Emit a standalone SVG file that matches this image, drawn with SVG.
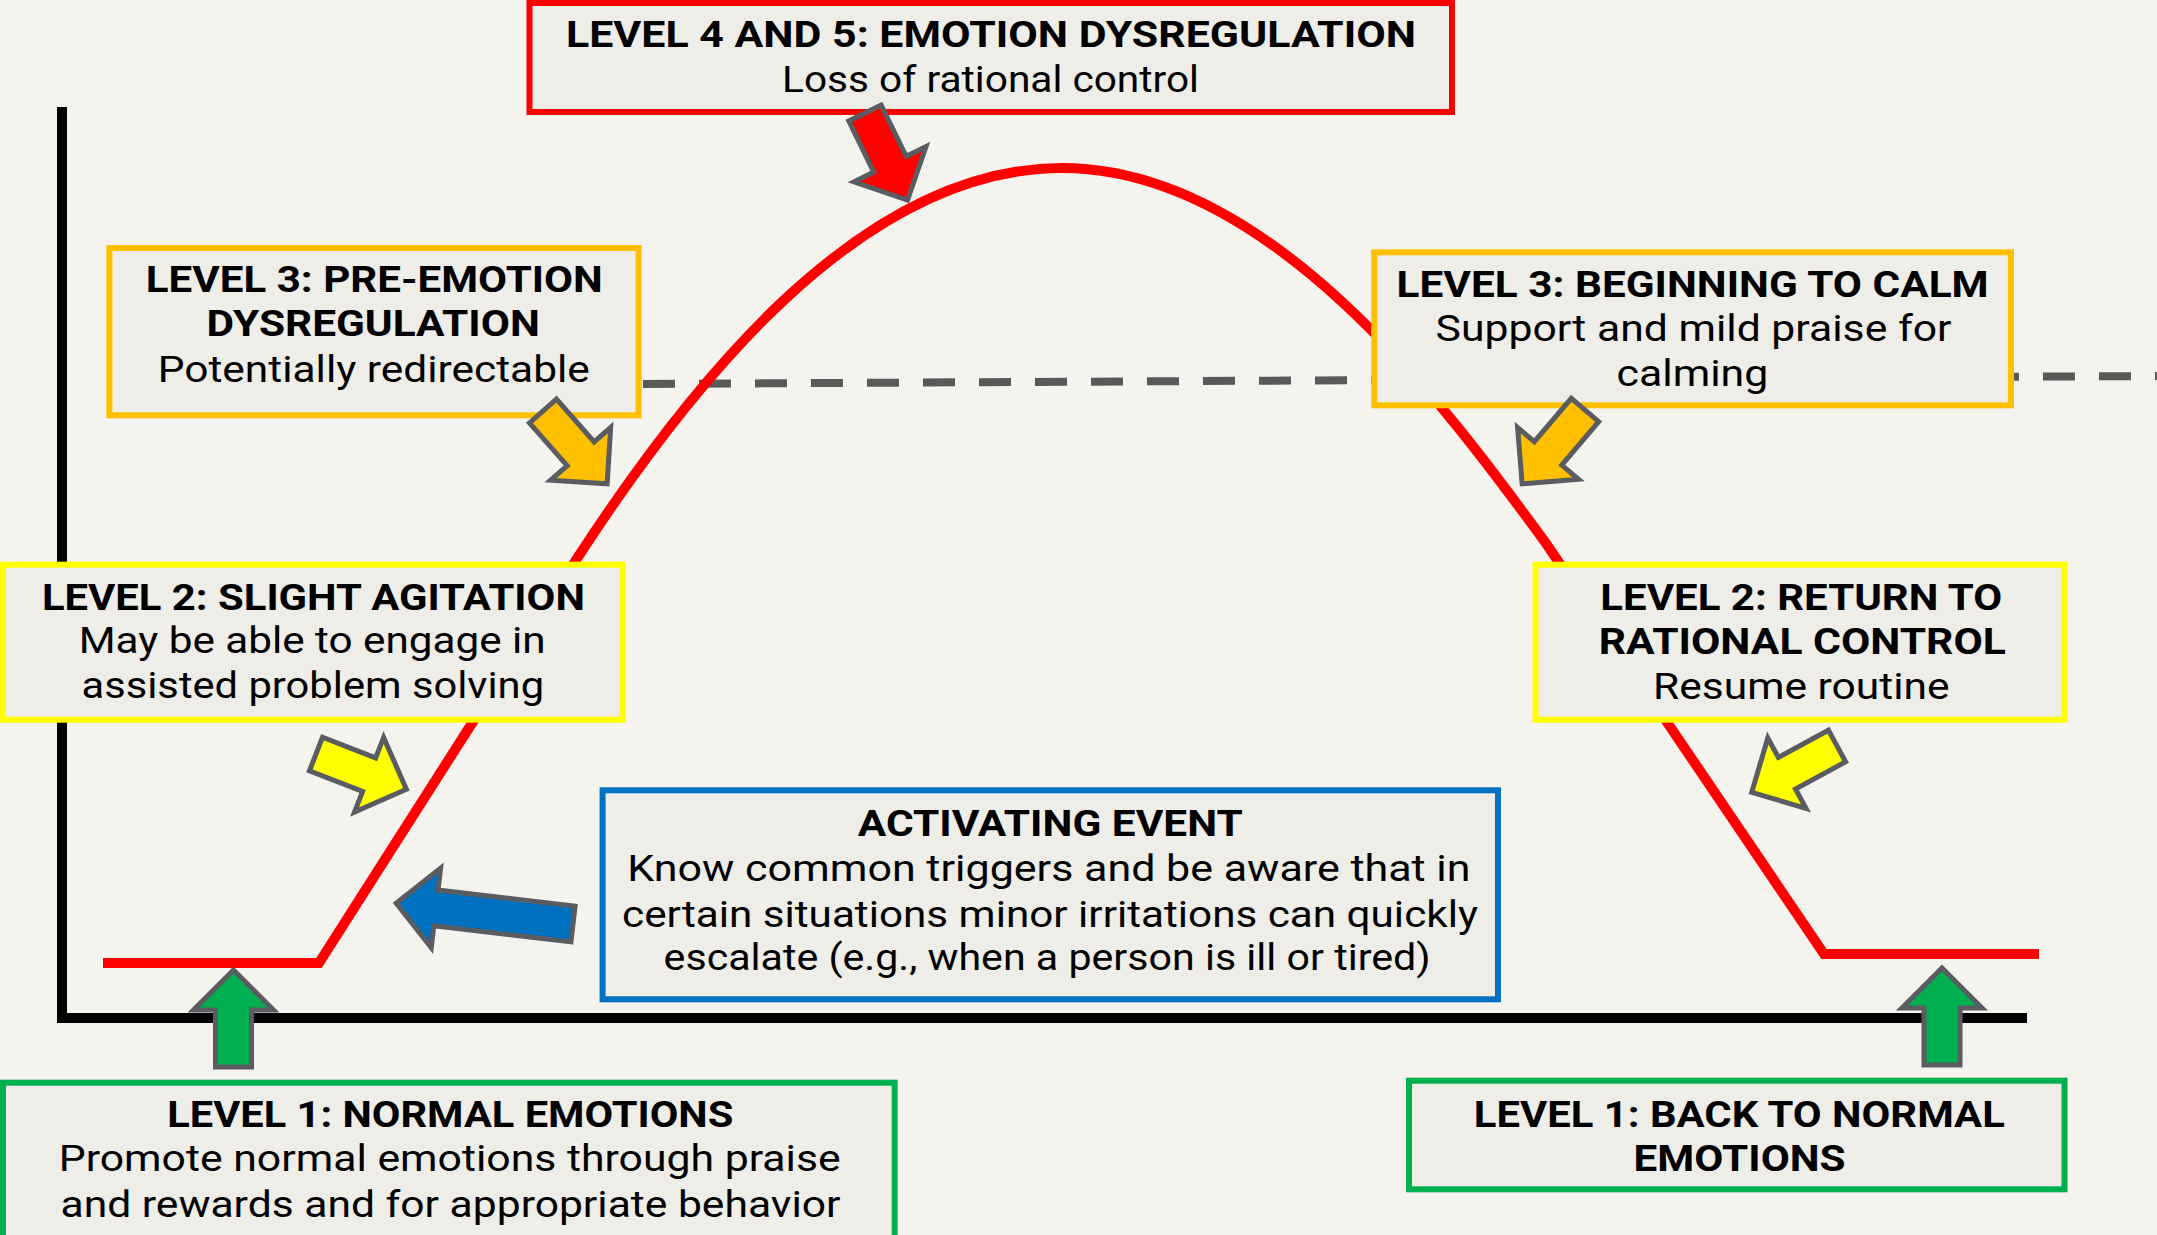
<svg xmlns="http://www.w3.org/2000/svg" xmlns:xlink="http://www.w3.org/1999/xlink" width="2157" height="1235" viewBox="0 0 2157 1235">
  <style>
    .bg { fill: #F4F3EE; }
    .box { fill: #EEEDE7; stroke-width: 6; }
    .red { stroke: #FF0000; }
    .orange { stroke: #FFC000; }
    .yellow { stroke: #FFFF00; }
    .blue { stroke: #0070C0; }
    .green { stroke: #00B050; }
    .h { font-family: Roboto, "Liberation Sans", sans-serif; font-weight: 700; font-size: 37px; fill: #000; text-anchor: middle; }
    .t { font-family: Roboto, "Liberation Sans", sans-serif; font-weight: 400; font-size: 37px; fill: #000; text-anchor: middle; }
    .axis { stroke: #000; stroke-width: 10; fill: none; }
    .dash { stroke: #595959; stroke-width: 8; stroke-dasharray: 32 24; fill: none; }
    .curve { stroke: #FF0000; stroke-width: 10; fill: none; stroke-linejoin: miter; }
    .arr { stroke: #595C60; stroke-width: 5; stroke-linejoin: miter; }
  </style>
  <defs>
    <path id="arrow" d="M0,-18 H57 V-40 L97,0 L57,40 V18 H0 Z"/>
    <path id="arrowLong" d="M0,-18 H138 V-40 L178,0 L138,40 V18 H0 Z"/>
  </defs>

  <rect class="bg" x="0" y="0" width="2157" height="1235"/>

  <g id="chart">
    <path class="axis" d="M62,107 V1018 H2027"/>
    <path class="dash" d="M643,384 L2157,376"/>
    <path class="curve" d="M103,963 H319 L578,557 C690,385 860,168 1062,168 C1270,168 1445,405 1545,542 L1824,954 H2039"/>
  </g>

  <g id="level45">
    <rect class="box red" x="529.5" y="3" width="922.5" height="109"/>
    <text class="h" x="991" y="47" textLength="850" lengthAdjust="spacingAndGlyphs">LEVEL 4 AND 5: EMOTION DYSREGULATION</text>
    <text class="t" x="990.5" y="92" textLength="417" lengthAdjust="spacingAndGlyphs">Loss of rational control</text>
  </g>

  <g id="level3-pre">
    <rect class="box orange" x="109.4" y="248" width="529.2" height="167.3"/>
    <text class="h" x="374.3" y="292.3" textLength="457" lengthAdjust="spacingAndGlyphs">LEVEL 3: PRE-EMOTION</text>
    <text class="h" x="373.1" y="336" textLength="333.4" lengthAdjust="spacingAndGlyphs">DYSREGULATION</text>
    <text class="t" x="373.8" y="381.7" textLength="432" lengthAdjust="spacingAndGlyphs">Potentially redirectable</text>
  </g>

  <g id="level3-calm">
    <rect class="box orange" x="1374.2" y="252.3" width="636.8" height="153"/>
    <text class="h" x="1692.6" y="296.7" textLength="592" lengthAdjust="spacingAndGlyphs">LEVEL 3: BEGINNING TO CALM</text>
    <text class="t" x="1693.6" y="340.7" textLength="516" lengthAdjust="spacingAndGlyphs">Support and mild praise for</text>
    <text class="t" x="1692.4" y="386" textLength="151.6" lengthAdjust="spacingAndGlyphs">calming</text>
  </g>

  <g id="level2-agitation">
    <rect class="box yellow" x="3" y="564.7" width="619.7" height="155"/>
    <text class="h" x="313.4" y="610" textLength="543" lengthAdjust="spacingAndGlyphs">LEVEL 2: SLIGHT AGITATION</text>
    <text class="t" x="312.2" y="653.3" textLength="467" lengthAdjust="spacingAndGlyphs">May be able to engage in</text>
    <text class="t" x="312.8" y="698.3" textLength="462.5" lengthAdjust="spacingAndGlyphs">assisted problem solving</text>
  </g>

  <g id="level2-return">
    <rect class="box yellow" x="1535.5" y="564.7" width="529" height="155"/>
    <text class="h" x="1801.2" y="610" textLength="401.8" lengthAdjust="spacingAndGlyphs">LEVEL 2: RETURN TO</text>
    <text class="h" x="1802.3" y="654.3" textLength="407" lengthAdjust="spacingAndGlyphs">RATIONAL CONTROL</text>
    <text class="t" x="1801.3" y="699.3" textLength="296.6" lengthAdjust="spacingAndGlyphs">Resume routine</text>
  </g>

  <g id="activating-event">
    <rect class="box blue" x="602.6" y="790.3" width="895.4" height="209"/>
    <text class="h" x="1050.3" y="836" textLength="385" lengthAdjust="spacingAndGlyphs">ACTIVATING EVENT</text>
    <text class="t" x="1048.9" y="881" textLength="843.4" lengthAdjust="spacingAndGlyphs">Know common triggers and be aware that in</text>
    <text class="t" x="1050" y="926.7" textLength="855.8" lengthAdjust="spacingAndGlyphs">certain situations minor irritations can quickly</text>
    <text class="t" x="1047.1" y="970" textLength="767" lengthAdjust="spacingAndGlyphs">escalate (e.g., when a person is ill or tired)</text>
  </g>

  <g id="level1-normal">
    <rect class="box green" x="3" y="1082.7" width="891.7" height="170"/>
    <text class="h" x="450.3" y="1127.3" textLength="566" lengthAdjust="spacingAndGlyphs">LEVEL 1: NORMAL EMOTIONS</text>
    <text class="t" x="449.7" y="1170.7" textLength="782" lengthAdjust="spacingAndGlyphs">Promote normal emotions through praise</text>
    <text class="t" x="450.5" y="1216.7" textLength="780" lengthAdjust="spacingAndGlyphs">and rewards and for appropriate behavior</text>
  </g>

  <g id="level1-back">
    <rect class="box green" x="1409" y="1080.7" width="655.5" height="108.6"/>
    <text class="h" x="1739.3" y="1126.7" textLength="531" lengthAdjust="spacingAndGlyphs">LEVEL 1: BACK TO NORMAL</text>
    <text class="h" x="1739.6" y="1170.7" textLength="212" lengthAdjust="spacingAndGlyphs">EMOTIONS</text>
  </g>

  <g id="connectors">
    <use href="#arrow" class="arr" fill="#FF0000" transform="translate(865,113) rotate(64)"/>
    <use href="#arrow" class="arr" fill="#FFC000" transform="translate(543,411) rotate(48.6)"/>
    <use href="#arrow" class="arr" fill="#FFFF00" transform="translate(316,754) rotate(21.3)"/>
    <use href="#arrow" class="arr" fill="#FFC000" transform="translate(1585,410) rotate(130.4)"/>
    <use href="#arrow" class="arr" fill="#FFFF00" transform="translate(1837,746) rotate(151.5)"/>
    <use href="#arrowLong" class="arr" fill="#0070C0" transform="translate(573,924) rotate(186.7)"/>
    <use href="#arrow" class="arr" fill="#00B050" transform="translate(233.5,1067) rotate(-90)"/>
    <use href="#arrow" class="arr" fill="#00B050" transform="translate(1942,1065) rotate(-90)"/>
  </g>
</svg>
